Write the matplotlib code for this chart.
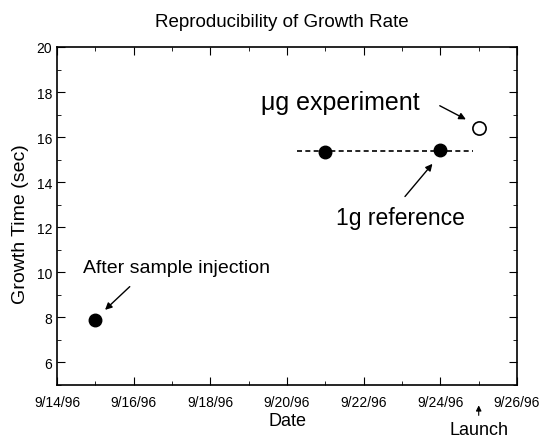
import matplotlib.pyplot as plt

plt.rcParams['font.family'] = ['Liberation Sans', 'DejaVu Sans']

# days counted from 9/14/96
x_ticks = [0, 2, 4, 6, 8, 10, 12]
x_labels = ['9/14/96', '9/16/96', '9/18/96', '9/20/96', '9/22/96', '9/24/96', '9/26/96']

injection_day = [1.0]
injection_time = [7.9]

ref_days = [7.0, 10.0]
ref_times = [15.36, 15.42]

ref_line_days = [6.27, 10.86]
ref_line_times = [15.38, 15.38]

ug_day = [11.0]
ug_time = [16.42]

launch_day = 11.0

fig = plt.figure(figsize=(5.4, 4.39), dpi=100)
ax = fig.add_axes([0.1056, 0.1207, 0.8519, 0.770])

ax.plot(ref_line_days, ref_line_times, color='black', linestyle='--', linewidth=1.2, dashes=(3, 2))
ax.plot(injection_day, injection_time, 'o', color='black', markersize=9)
ax.plot(ref_days, ref_times, 'o', color='black', markersize=9)
ax.plot(ug_day, ug_time, 'o', markerfacecolor='white', markeredgecolor='black',
        markeredgewidth=1.2, markersize=9.5)

ax.set_xlim(0, 12)
ax.set_ylim(5, 20)
ax.set_xticks(x_ticks)
ax.set_xticklabels(x_labels)
ax.set_xticks(range(0, 13), minor=True)
ax.set_yticks([6, 8, 10, 12, 14, 16, 18, 20])
ax.set_yticks([5, 7, 9, 11, 13, 15, 17, 19], minor=True)
ax.tick_params(which='both', direction='in', top=True, right=True, labelsize=10)
ax.tick_params(which='major', length=6)
ax.tick_params(which='minor', length=3)
ax.tick_params(axis='x', pad=7)
for s in ax.spines.values():
    s.set_linewidth(1.2)

ax.set_xlabel('Date', fontsize=13, va='center')
ax.xaxis.set_label_coords(0.5, -0.104)
ax.set_ylabel('Growth Time (sec)', fontsize=14, va='center')
ax.yaxis.set_label_coords(-0.08, 0.48)
fig.suptitle('Reproducibility of Growth Rate', fontsize=13.5, x=0.522, y=0.968)

arrow = dict(arrowstyle='-|>', color='black', linewidth=1, mutation_scale=10)
ax.text(0.68, 10.2, 'After sample injection', fontsize=14, ha='left', va='center')
ax.annotate('', xy=(1.2, 8.25), xytext=(1.95, 9.45), arrowprops=arrow)
ax.text(9.45, 17.25, '\u03bcg experiment', fontsize=18, ha='right', va='baseline')
ax.annotate('', xy=(10.73, 16.73), xytext=(9.92, 17.45), arrowprops=arrow)
ax.text(8.96, 12.15, '1g reference', fontsize=16.5, ha='center', va='baseline')
ax.annotate('', xy=(9.84, 14.91), xytext=(9.03, 13.27), arrowprops=arrow)

ax.text(launch_day, 3.04, 'Launch', fontsize=13, ha='center', va='center')
ax.annotate('', xy=(launch_day, 4.22), xytext=(launch_day, 3.53),
            arrowprops=dict(arrowstyle='-|>', color='black', linewidth=0.8, mutation_scale=8),
            annotation_clip=False)

fig.savefig('out.png', dpi=100)
